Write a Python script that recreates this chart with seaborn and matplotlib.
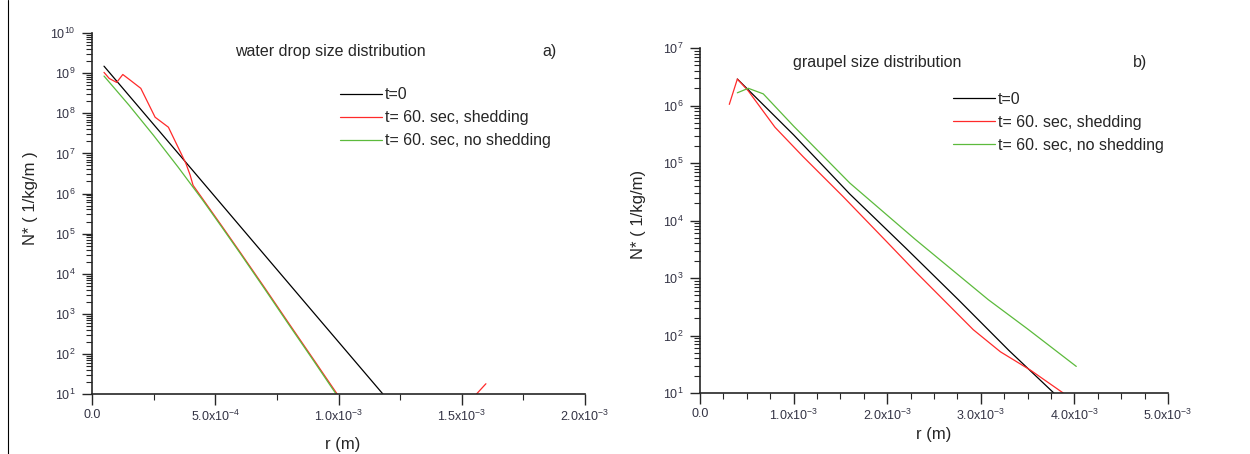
import matplotlib
matplotlib.use("Agg")
import matplotlib.pyplot as plt
import matplotlib.ticker as mticker
from matplotlib.lines import Line2D
import pandas as pd
import seaborn as sns

# a) water drop size distribution, r in m, N* in 1/kg/m
water_r_t0 = [4.87e-5, 3.0e-4, 6.0e-4, 9.0e-4, 1.18e-3]
water_n_t0 = [1.5e9, 2.3e7, 1.55e5, 1.05e3, 1.0e1]
water_r_shed = [4.87e-5, 7.0e-5, 1.0e-4, 1.25e-4, 1.54e-4, 1.98e-4, 2.56e-4, 3.10e-4,
                3.81e-4, 3.98e-4, 4.1e-4, 4.5e-4, 5.25e-4, 6.0e-4, 7.0e-4, 8.0e-4,
                9.0e-4, 9.92e-4, 1.2e-3, 1.55e-3, 1.56e-3, 1.598e-3]
water_n_shed = [1.05e9, 7.4e8, 5.9e8, 9.3e8, 6.8e8, 4.2e8, 8.0e7, 4.5e7,
                5.6e6, 2.9e6, 1.6e6, 7.2e5, 1.6e5, 3.5e4, 4.5e3, 5.6e2,
                7.1e1, 1.05e1, 1.0e-1, 1.0e-1, 1.0e1, 1.8e1]
water_r_noshed = [4.87e-5, 1.5e-4, 2.5e-4, 3.5e-4, 4.5e-4, 5.25e-4, 6.0e-4, 7.0e-4,
                  8.0e-4, 9.0e-4, 9.9e-4]
water_n_noshed = [8.5e8, 1.6e8, 2.8e7, 4.5e6, 6.7e5, 1.5e5, 3.3e4, 4.2e3,
                  5.2e2, 6.6e1, 1.0e1]

# b) graupel size distribution
graupel_r_t0 = [3.99e-4, 1.0e-3, 1.6e-3, 2.2e-3, 2.76e-3, 3.3e-3, 3.78e-3]
graupel_n_t0 = [2.9e6, 3.1e5, 2.9e4, 3.3e3, 4.2e2, 5.5e1, 1.0e1]
graupel_r_shed = [3.13e-4, 3.99e-4, 5.16e-4, 8.01e-4, 1.1e-3, 1.53e-3, 2.0e-3, 2.3e-3,
                  2.60e-3, 2.92e-3, 3.21e-3, 3.53e-3, 3.88e-3]
graupel_n_shed = [1.05e6, 2.9e6, 1.8e6, 4.2e5, 1.3e5, 2.6e4, 4.2e3, 1.3e3,
                  4.2e2, 1.26e2, 5.2e1, 2.5e1, 1.0e1]
graupel_r_noshed = [3.99e-4, 5.16e-4, 6.76e-4, 1.0e-3, 1.6e-3, 2.3e-3, 3.08e-3, 3.5e-3,
                    4.02e-3]
graupel_n_noshed = [1.67e6, 2.0e6, 1.6e6, 4.4e5, 4.5e4, 4.7e3, 4.2e2, 1.3e2, 2.9e1]

labels = ["t=0", "t= 60. sec, shedding", "t= 60. sec, no shedding"]
colors = ["#000000", "#ff2a2a", "#5cba3c"]

sns.set_style("ticks")
plt.rcParams["font.family"] = ["Liberation Sans", "DejaVu Sans"]
plt.rcParams["mathtext.fontset"] = "custom"
plt.rcParams["mathtext.rm"] = "Liberation Sans"
plt.rcParams["mathtext.it"] = "Liberation Sans:italic"
plt.rcParams["mathtext.default"] = "regular"

fig = plt.figure(figsize=(12.5, 4.54), dpi=100)
ax1 = fig.add_axes([0.0736, 0.1322, 0.3944, 0.7948])
ax2 = fig.add_axes([0.56, 0.1344, 0.3744, 0.7596])

# stray frame line at the left edge of the original picture
fig.add_artist(Line2D([0.0064, 0.0064], [0.0, 1.0], color="black", lw=0.8))


def draw(ax, series):
    for (r, n), lab, col in zip(series, labels, colors):
        df = pd.DataFrame({"r": r, "n": n})
        sns.lineplot(data=df, x="r", y="n", ax=ax, color=col, lw=0.9, label=lab,
                     sort=False)


def sci_fmt(v, pos):
    if abs(v) < 1e-12:
        return "0.0"
    exp = int(f"{v:.1e}".split("e")[1])
    mant = v / 10 ** exp
    return f"{mant:.1f}x10$^{{{exp}}}$"


draw(ax1, [(water_r_t0, water_n_t0), (water_r_shed, water_n_shed),
           (water_r_noshed, water_n_noshed)])
draw(ax2, [(graupel_r_t0, graupel_n_t0), (graupel_r_shed, graupel_n_shed),
           (graupel_r_noshed, graupel_n_noshed)])

setup = [
    (ax1, (0, 2e-3), 5e-4, 2.5e-4, (1e1, 1e10), "water drop size distribution", "a)",
     (0.483, 0.95), (0.929, 0.95), (0.503, 0.85), (-0.11, 0.543), (0.509, -0.12),
     "N* ( 1/kg/m )"),
    (ax2, (0, 5e-3), 1e-3, 2.5e-4, (1e1, 1e7), "graupel size distribution", "b)",
     (0.378, 0.959), (0.94, 0.957), (0.541, 0.874), (-0.115, 0.519), (0.50, -0.1),
     "N* ( 1/kg/m)"),
]
for (ax, xl, major, minor, yl, title, tag, tpos, gpos, lpos, ylab, xlab, ytext) in setup:
    ax.set_yscale("log")
    ax.set_xlim(*xl)
    ax.set_ylim(*yl)
    ax.xaxis.set_major_locator(mticker.MultipleLocator(major))
    ax.xaxis.set_minor_locator(mticker.MultipleLocator(minor))
    ax.xaxis.set_major_formatter(mticker.FuncFormatter(sci_fmt))
    ax.yaxis.set_major_locator(mticker.LogLocator(base=10, numticks=20))
    ax.yaxis.set_minor_locator(mticker.LogLocator(base=10, subs=range(2, 10), numticks=20))
    ax.yaxis.set_minor_formatter(mticker.NullFormatter())
    ax.yaxis.set_major_formatter(mticker.LogFormatterMathtext())
    ax.tick_params(axis="both", which="major", length=7, width=1, labelsize=9,
                   labelcolor="#333344", direction="out")
    ax.tick_params(axis="x", which="major", length=8, pad=3)
    ax.tick_params(axis="y", which="major", pad=5)
    ax.tick_params(axis="both", which="minor", length=4, width=0.8, direction="out")
    for s in ("left", "bottom"):
        ax.spines[s].set_linewidth(1.2)
    sns.despine(ax=ax)
    ax.set_xlabel("r (m)", fontsize=12)
    ax.set_ylabel(ytext, fontsize=12)
    ax.yaxis.set_label_coords(*ylab)
    ax.xaxis.set_label_coords(*xlab)
    ax.text(*tpos, title, transform=ax.transAxes, ha="center", va="center", fontsize=11.5)
    ax.text(*gpos, tag, transform=ax.transAxes, ha="center", va="center", fontsize=11.5)
    ax.legend(loc="upper left", bbox_to_anchor=lpos, frameon=False, fontsize=11.5,
              handlelength=2.6, handletextpad=0.2, labelspacing=0.5, borderpad=0,
              borderaxespad=0)

fig.savefig("out.png", dpi=100)
